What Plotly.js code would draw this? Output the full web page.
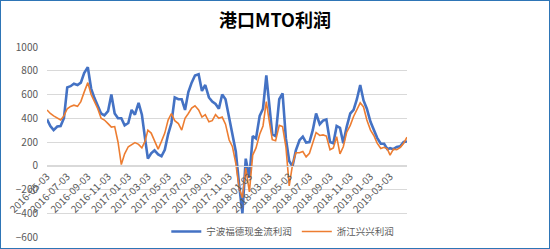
<!DOCTYPE html>
<html>
<head>
<meta charset="utf-8">
<script src="https://cdn.plot.ly/plotly-3.0.1.min.js"></script>
<style>
html,body{margin:0;padding:0;background:#fff;}
#chart{width:550px;height:249px;}
</style>
</head>
<body>
<div id="chart"></div>
<script>
const dates = [
'2016-05-03','2016-05-13','2016-05-23','2016-06-03','2016-06-13','2016-06-23',
'2016-07-03','2016-07-13','2016-07-23','2016-08-03','2016-08-13','2016-08-23',
'2016-09-03','2016-09-13','2016-09-23','2016-10-03','2016-10-13','2016-10-23',
'2016-11-03','2016-11-13','2016-11-23','2016-12-03','2016-12-13','2016-12-23',
'2017-01-03','2017-01-13','2017-01-23','2017-02-03','2017-02-13','2017-02-23',
'2017-03-03','2017-03-13','2017-03-23','2017-04-03','2017-04-13','2017-04-23',
'2017-05-03','2017-05-13','2017-05-23','2017-06-03','2017-06-13','2017-06-23',
'2017-07-03','2017-07-13','2017-07-23','2017-08-03','2017-08-13','2017-08-23',
'2017-09-03','2017-09-13','2017-09-23','2017-10-03','2017-10-13','2017-10-23',
'2017-11-03','2017-11-13','2017-11-23','2017-12-03','2017-12-13','2017-12-23',
'2018-01-03','2018-01-13','2018-01-23','2018-02-03','2018-02-13','2018-02-23',
'2018-03-03','2018-03-13','2018-03-23','2018-04-03','2018-04-13','2018-04-23',
'2018-05-03','2018-05-13','2018-05-23','2018-06-03','2018-06-13','2018-06-23',
'2018-07-03','2018-07-13','2018-07-23','2018-08-03','2018-08-13','2018-08-23',
'2018-09-03','2018-09-13','2018-09-23','2018-10-03','2018-10-13','2018-10-23',
'2018-11-03','2018-11-13','2018-11-23','2018-12-03','2018-12-13','2018-12-23',
'2019-01-03','2019-01-13','2019-01-23','2019-02-03','2019-02-13','2019-02-23',
'2019-03-03','2019-03-13','2019-03-23','2019-04-03','2019-04-13','2019-04-23'
];

const ningboFude = [
390,335,300, 330,335,400, 660,670,690, 680,700,780,
830,650,570, 500,440,425, 460,600,440, 400,400,340,
360,470,430, 530,430,220, 60,105,130, 95,80,135,
265,360,575, 560,560,470, 620,700,760, 770,630,680,
575,540,520, 480,600,560, 400,240,120, -160,-400,60,
-100,250,230, 420,480,760, 540,265,250, 560,610,230,
40,-5,130, 215,245,195, 200,300,440, 350,380,390,
200,190,335, 320,190,325, 440,470,560, 680,550,480,
370,310,235, 185,185,140, 148,140,158, 165,200,205
];

const zhejiangXingxing = [
470,440,420, 400,385,420, 480,500,510, 500,540,620,
700,600,545, 480,400,385, 355,325,330, 200,10,100,
160,175,195, 180,150,210, 300,275,205, 140,205,275,
385,440,380, 355,300,400, 440,485,505, 470,410,430,
370,380,430, 400,410,350, 217,160,20, -190,-270,-20,
-220,90,150, 265,335,540, 390,220,210, 340,330,160,
-170,10,110, 110,120,75, 105,200,280, 255,260,250,
135,150,245, 100,160,280, 340,415,470, 530,495,385,
300,255,190, 145,155,140, 90,140,135, 155,190,240
];

const seriesNames = ['宁波福德现金流利润', '浙江兴兴利润'];
const chartTitle = '港口MTO利润';

const FONT = '"Noto Sans CJK SC", "Noto Sans", sans-serif';

const traces = [
  {x: dates, y: ningboFude, name: seriesNames[0], type: 'scatter', mode: 'lines',
   line: {color: '#4472C4', width: 2.6}},
  {x: dates, y: zhejiangXingxing, name: seriesNames[1], type: 'scatter', mode: 'lines',
   line: {color: '#ED7D31', width: 1.6}}
];

const layout = {
  width: 550, height: 249,
  margin: {l: 47, r: 143, t: 47, b: 12, autoexpand: false},
  paper_bgcolor: '#ffffff', plot_bgcolor: '#ffffff',
  font: {family: FONT, color: '#595959', size: 10},
  title: {text: chartTitle, x: 0.5, xref: 'container', xanchor: 'center', y: 0.915, yref: 'container', yanchor: 'middle',
          font: {family: FONT, size: 18, color: '#000000', weight: 'bold'}},
  showlegend: true,
  legend: {orientation: 'h', x: 0.655, xanchor: 'center', y: -0.047, yanchor: 'bottom',
           font: {family: FONT, size: 9.5, color: '#595959'}, bgcolor: 'rgba(0,0,0,0)',
           itemwidth: 30, tracegroupgap: 0},
  xaxis: {type: 'date', range: ['2016-05-03', '2019-04-23'],
          anchor: 'free', position: 0.375,
          tick0: '2016-05-03', dtick: 'M2', tickformat: '%Y-%m-%d', tickangle: -45,
          showgrid: false, zeroline: false, showline: true, linecolor: '#d9d9d9', linewidth: 1,
          ticks: '', automargin: false,
          tickfont: {family: FONT, size: 10, color: '#595959'}},
  yaxis: {range: [-600, 1000], dtick: 200, tick0: 0,
          showgrid: true, gridcolor: '#d9d9d9', gridwidth: 1, zeroline: false,
          showline: false, ticks: '', ticklabelstandoff: 8, automargin: false,
          tickfont: {family: FONT, size: 10, color: '#595959'}},
  shapes: [
    {type: 'rect', xref: 'paper', yref: 'paper',
     x0: -47/360, x1: 503/360, y0: -12/190, y1: 237/190,
     line: {color: '#2E75B6', width: 2}, fillcolor: 'rgba(0,0,0,0)', layer: 'above'}
  ]
};

Plotly.newPlot('chart', traces, layout, {staticPlot: true, displayModeBar: false});
</script>
</body>
</html>
